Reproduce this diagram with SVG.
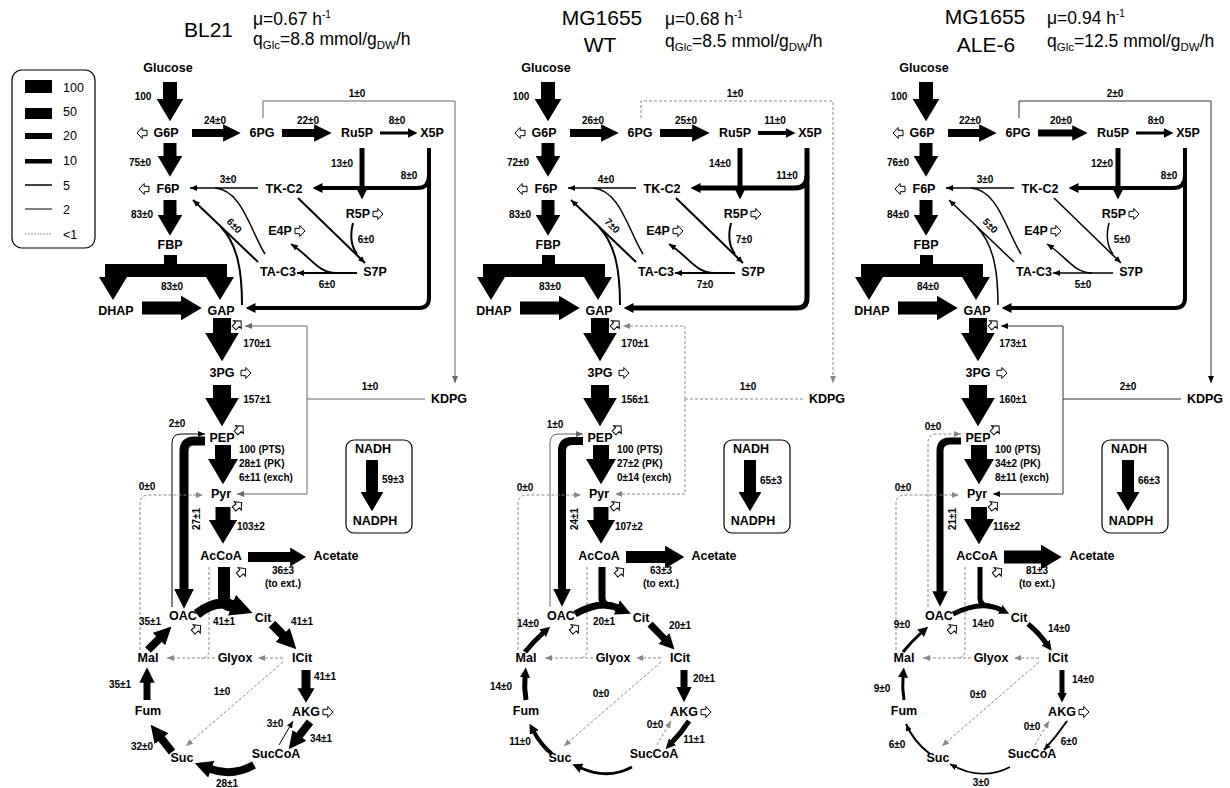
<svg xmlns="http://www.w3.org/2000/svg" xmlns:xlink="http://www.w3.org/1999/xlink" width="1230" height="788" viewBox="0 0 1230 788">
<style>
text{font-family:"Liberation Sans",Arial,sans-serif;fill:#000}
.n{font-size:12.5px;font-weight:bold;text-anchor:middle}
.l{font-size:10px;font-weight:bold;text-anchor:middle}
.ls{text-anchor:start}
.t1{font-size:21px}
.t2{font-size:17.5px}
.lg{font-size:12.5px}
.k{fill:none;stroke:#000;stroke-linejoin:round}
.g1{fill:none;stroke:#666;stroke-width:1}
.dk{fill:none;stroke:#333;stroke-width:1}
.d{fill:none;stroke:#888;stroke-width:1;stroke-dasharray:3 2}
.box{fill:none;stroke:#000;stroke-width:1.2}
.ico{fill:#fff;stroke:#000;stroke-width:1}
</style>
<defs>
<marker id="hL" viewBox="0 0 10 10" refX="0.5" refY="5" markerWidth="1.6" markerHeight="1.9" orient="auto" preserveAspectRatio="none"><path d="M0,0L10,5L0,10z"/></marker>
<marker id="hM" viewBox="0 0 10 10" refX="0.5" refY="5" markerWidth="2.2" markerHeight="2.2" orient="auto" preserveAspectRatio="none"><path d="M0,0L10,5L0,10z"/></marker>
<marker id="hS" viewBox="0 0 10 10" refX="0.5" refY="5" markerUnits="userSpaceOnUse" markerWidth="10" markerHeight="10" orient="auto"><path d="M0,0L10,5L0,10z"/></marker>
<marker id="hT" viewBox="0 0 10 10" refX="10" refY="5" markerUnits="userSpaceOnUse" markerWidth="7" markerHeight="6" orient="auto" preserveAspectRatio="none"><path d="M0,0L10,5L0,10z"/></marker>
<marker id="hD" viewBox="0 0 10 10" refX="10" refY="5" markerUnits="userSpaceOnUse" markerWidth="7" markerHeight="6" orient="auto" preserveAspectRatio="none"><path d="M0,0L10,5L0,10z" fill="#666"/></marker>
<marker id="hG" viewBox="0 0 10 10" refX="10" refY="5" markerUnits="userSpaceOnUse" markerWidth="7" markerHeight="6" orient="auto" preserveAspectRatio="none"><path d="M0,0L10,5L0,10z" fill="#888"/></marker>
<path id="ico" class="ico" d="M0,-2.7H4.8V-5.5L10,0L4.8,5.5V2.7H0Z"/>
<polygon id="fbp" points="164,255 177,255 177,264 227,264 227,277 234,277 220,300 206,277 127,277 113,300 99,277 105,277 105,264 164,264"/>
</defs>
<rect width="1230" height="788" fill="#fff"/>

<g id="legend">
<rect class="box" x="12" y="70" width="83" height="178" rx="10"/>
<rect x="25" y="80" width="27" height="13"/>
<rect x="25" y="108" width="27" height="11"/>
<rect x="25" y="133" width="27" height="6"/>
<rect x="25" y="159" width="27" height="4.5"/>
<line x1="25" y1="185" x2="52" y2="185" stroke="#000" stroke-width="1.5"/>
<line x1="25" y1="209" x2="52" y2="209" stroke="#000" stroke-width="1"/>
<line x1="25" y1="234" x2="52" y2="234" stroke="#999" stroke-width="1" stroke-dasharray="2 1"/>
<text class="lg" x="63" y="92">100</text>
<text class="lg" x="63" y="116">50</text>
<text class="lg" x="63" y="140">20</text>
<text class="lg" x="63" y="165">10</text>
<text class="lg" x="63" y="190">5</text>
<text class="lg" x="63" y="214">2</text>
<text class="lg" x="63" y="239">&lt;1</text>
</g>

<g id="titles">
<text class="t1" x="184" y="37">BL21</text>
<text class="t2" x="253" y="25">μ=0.67 h<tspan font-size="10" dy="-7">-1</tspan></text>
<text class="t2" x="253" y="45">q<tspan font-size="11.5" dy="4">Glc</tspan><tspan dy="-4">=8.8 mmol/g</tspan><tspan font-size="11.5" dy="4">DW</tspan><tspan dy="-4">/h</tspan></text>
<text class="t1" x="602" y="25" text-anchor="middle">MG1655</text>
<text class="t1" x="600" y="52" text-anchor="middle">WT</text>
<text class="t2" x="665" y="25">μ=0.68 h<tspan font-size="10" dy="-7">-1</tspan></text>
<text class="t2" x="665" y="47">q<tspan font-size="11.5" dy="4">Glc</tspan><tspan dy="-4">=8.5 mmol/g</tspan><tspan font-size="11.5" dy="4">DW</tspan><tspan dy="-4">/h</tspan></text>
<text class="t1" x="985" y="24" text-anchor="middle">MG1655</text>
<text class="t1" x="986" y="52" text-anchor="middle">ALE-6</text>
<text class="t2" x="1047" y="24">μ=0.94 h<tspan font-size="10" dy="-7">-1</tspan></text>
<text class="t2" x="1047" y="47">q<tspan font-size="11.5" dy="4">Glc</tspan><tspan dy="-4">=12.5 mmol/g</tspan><tspan font-size="11.5" dy="4">DW</tspan><tspan dy="-4">/h</tspan></text>
</g>

<!-- ================= PANEL 1 ================= -->
<g id="p1">
<g id="p1-connectors">
<path class="k" stroke-width="14" marker-end="url(#hL)" d="M170,82V100"/>
<path class="k" stroke-width="13" marker-end="url(#hL)" d="M170,143V157"/>
<path class="k" stroke-width="13" marker-end="url(#hL)" d="M170,200V216"/>
<use href="#fbp"/>
<path class="k" stroke-width="13" marker-end="url(#hL)" d="M142,308H182"/>
<path class="k" stroke-width="8" marker-end="url(#hM)" d="M192,133H224"/>
<path class="k" stroke-width="8" marker-end="url(#hM)" d="M282,133H315"/>
<path class="k" stroke-width="3" marker-end="url(#hS)" d="M380,133H408"/>
<path class="g1" marker-end="url(#hD)" d="M263,118V101H455V383"/>
<path class="k" stroke-width="5" marker-end="url(#hS)" d="M362,148V190"/>
<path class="k" stroke-width="4" marker-end="url(#hS)" d="M429,148V298Q429,308 419,308H255"/>
<path class="k" stroke-width="4" marker-end="url(#hS)" d="M429,176Q429,188 417,188H322"/>
<path class="k" stroke-width="1.5" marker-end="url(#hT)" d="M258,188H190"/>
<path class="k" stroke-width="1.5" d="M265,254C250,230 242,190 215,188"/>
<path class="k" stroke-width="2" marker-end="url(#hT)" d="M258,262L193,200"/>
<path class="k" stroke-width="2" d="M242,305C242,272 238,245 221,227"/>
<path class="k" stroke-width="2" marker-end="url(#hT)" d="M298,198L365,263"/>
<path class="k" stroke-width="2" d="M353,223C350,235 351,246 357,254"/>
<path class="k" stroke-width="2" marker-end="url(#hT)" d="M357,273H297"/>
<path class="k" stroke-width="2" marker-end="url(#hT)" d="M336,273C318,273 312,258 291,244"/>
<path class="k" stroke-width="18" marker-end="url(#hL)" d="M222,318V334"/>
<path class="k" stroke-width="18" marker-end="url(#hL)" d="M222,385V399"/>
<path class="k" stroke-width="16" marker-end="url(#hL)" d="M223,445V460"/>
<path class="k" stroke-width="15" marker-end="url(#hL)" d="M223,507V521"/>
<path class="k" stroke-width="10" marker-end="url(#hL)" d="M248,557H291"/>
<path class="g1" d="M425,399H307"/>
<path class="g1" marker-end="url(#hD)" d="M307,399V326H245"/>
<path class="g1" marker-end="url(#hD)" d="M307,399V494H237"/>
<path class="k" stroke-width="9" marker-end="url(#hM)" d="M205,441H194Q184,441 184,451V590"/>
<path class="k" stroke-width="1" marker-end="url(#hT)" d="M172,607V443Q172,434 181,434H205"/>
<path class="d" marker-end="url(#hG)" d="M140,650V504Q140,495 149,495H203"/>
<path class="d" d="M209,567V650Q209,658 201,658"/>
<path class="d" marker-end="url(#hG)" d="M283,658H258"/>
<path class="d" marker-end="url(#hG)" d="M215,658H167"/>
<path class="d" marker-end="url(#hG)" d="M283,662L186,746"/>
<path class="k" stroke-width="12" d="M224,567V597Q224,606 234,606"/>
<path class="k" stroke-width="10" marker-end="url(#hM)" d="M197,614Q216,599 233,605.5"/>
<path class="k" stroke-width="9" marker-end="url(#hM)" d="M272,624L283.3,635.7"/>
<path class="k" stroke-width="9" marker-end="url(#hL)" d="M306,670V689"/>
<path class="k" stroke-width="8" marker-end="url(#hM)" d="M310,722L299,736"/>
<path class="k" stroke-width="1" marker-end="url(#hT)" d="M279,745L293,721"/>
<path class="k" stroke-width="8" marker-end="url(#hM)" d="M254,765Q232,777 210.4,769"/>
<path class="k" stroke-width="8" marker-end="url(#hM)" d="M172,752L161,738"/>
<path class="k" stroke-width="7" marker-end="url(#hM)" d="M147,700V682"/>
<path class="k" stroke-width="8" marker-end="url(#hM)" d="M148,650L159.6,638.4"/>
<path class="k" stroke-width="12" marker-end="url(#hL)" d="M372,460V493"/>
<text class="l" x="143" y="100">100</text>
<text class="l" x="215" y="124">24±0</text>
<text class="l" x="308" y="124">22±0</text>
<text class="l" x="397" y="124">8±0</text>
<text class="l" x="357" y="97">1±0</text>
<text class="l" x="140" y="166">75±0</text>
<text class="l" x="342" y="167">13±0</text>
<text class="l" x="409" y="179">8±0</text>
<text class="l" x="228" y="183">3±0</text>
<text class="l" x="142" y="218">83±0</text>
<text class="l" x="234" y="229" transform="rotate(45 234 226)">6±0</text>
<text class="l" x="366" y="243">6±0</text>
<text class="l" x="327" y="288">6±0</text>
<text class="l" x="172" y="290">83±0</text>
<text class="l" x="257" y="347">170±1</text>
<text class="l" x="257" y="403">157±1</text>
<text class="l" x="370" y="390">1±0</text>
<text class="l" x="177" y="427">2±0</text>
<text class="l ls" x="239" y="453">100 (PTS)</text>
<text class="l ls" x="239" y="467">28±1 (PK)</text>
<text class="l ls" x="239" y="481">6±11 (exch)</text>
<text class="l" x="147" y="490">0±0</text>
<text class="l" x="200" y="519" transform="rotate(-90 200 519)">27±1</text>
<text class="l ls" x="237" y="530">103±2</text>
<text class="l" x="283" y="574">36±3</text>
<text class="l" x="283" y="587">(to ext.)</text>
<text class="l" x="224" y="625">41±1</text>
<text class="l" x="302" y="625">41±1</text>
<text class="l" x="150" y="625">35±1</text>
<text class="l" x="325" y="680">41±1</text>
<text class="l" x="222" y="695">1±0</text>
<text class="l" x="120" y="688">35±1</text>
<text class="l" x="275" y="727">3±0</text>
<text class="l" x="321" y="742">34±1</text>
<text class="l" x="142" y="750">32±0</text>
<text class="l" x="227" y="787">28±1</text>
<text class="l ls" x="382" y="483">59±3</text>
</g>
<g id="p1-Glucose"><text class="n" x="168" y="72">Glucose</text></g>
<g id="p1-G6P"><text class="n" x="166" y="137">G6P</text><use href="#ico" transform="translate(147,133) rotate(180)"/></g>
<g id="p1-6PG"><text class="n" x="262" y="137">6PG</text></g>
<g id="p1-Ru5P"><text class="n" x="357" y="137">Ru5P</text></g>
<g id="p1-X5P"><text class="n" x="432" y="137">X5P</text></g>
<g id="p1-F6P"><text class="n" x="168" y="193">F6P</text><use href="#ico" transform="translate(149,189) rotate(180)"/></g>
<g id="p1-TKC2"><text class="n" x="284" y="193">TK-C2</text></g>
<g id="p1-R5P"><text class="n" x="358" y="218">R5P</text><use href="#ico" transform="translate(373,214)"/></g>
<g id="p1-E4P"><text class="n" x="280" y="235">E4P</text><use href="#ico" transform="translate(295,231)"/></g>
<g id="p1-FBP"><text class="n" x="170" y="249">FBP</text></g>
<g id="p1-TAC3"><text class="n" x="278" y="276">TA-C3</text></g>
<g id="p1-S7P"><text class="n" x="375" y="276">S7P</text></g>
<g id="p1-DHAP"><text class="n" x="116" y="315">DHAP</text></g>
<g id="p1-GAP"><text class="n" x="221" y="315">GAP</text><use href="#ico" transform="translate(234,328) rotate(-45)"/></g>
<g id="p1-3PG"><text class="n" x="222" y="377">3PG</text><use href="#ico" transform="translate(241,373)"/></g>
<g id="p1-KDPG"><text class="n" x="449" y="403">KDPG</text></g>
<g id="p1-PEP"><text class="n" x="222" y="442">PEP</text><use href="#ico" transform="translate(236,433) rotate(-45)"/></g>
<g id="p1-Pyr"><text class="n" x="221" y="498">Pyr</text><use href="#ico" transform="translate(234,509) rotate(-40)"/></g>
<g id="p1-AcCoA"><text class="n" x="221" y="560">AcCoA</text><use href="#ico" transform="translate(238,575) rotate(-40)"/></g>
<g id="p1-Acetate"><text class="n" x="336" y="560">Acetate</text></g>
<g id="p1-OAC"><text class="n" x="183" y="620">OAC</text><use href="#ico" transform="translate(193,632) rotate(-40)"/></g>
<g id="p1-Cit"><text class="n" x="263" y="622">Cit</text></g>
<g id="p1-Mal"><text class="n" x="148" y="662">Mal</text></g>
<g id="p1-Glyox"><text class="n" x="235" y="662">Glyox</text></g>
<g id="p1-ICit"><text class="n" x="302" y="662">ICit</text></g>
<g id="p1-Fum"><text class="n" x="148" y="715">Fum</text></g>
<g id="p1-AKG"><text class="n" x="306" y="716">AKG</text><use href="#ico" transform="translate(323,712)"/></g>
<g id="p1-Suc"><text class="n" x="182" y="762">Suc</text></g>
<g id="p1-SucCoA"><text class="n" x="276" y="758">SucCoA</text></g>
<g id="p1-NADH"><rect class="box" x="346" y="440" width="66" height="93" rx="8"/><text class="n" x="373" y="453">NADH</text><text class="n" x="375" y="525">NADPH</text></g>
</g>

<!-- ================= PANEL 2 ================= -->
<g id="p2" transform="translate(378,0)">
<g id="p2-connectors">
<path class="k" stroke-width="14" marker-end="url(#hL)" d="M170,82V100"/>
<path class="k" stroke-width="13" marker-end="url(#hL)" d="M170,143V157"/>
<path class="k" stroke-width="13" marker-end="url(#hL)" d="M170,200V216"/>
<use href="#fbp"/>
<path class="k" stroke-width="13" marker-end="url(#hL)" d="M142,308H182"/>
<path class="k" stroke-width="8" marker-end="url(#hM)" d="M192,133H224"/>
<path class="k" stroke-width="8" marker-end="url(#hM)" d="M282,133H315"/>
<path class="k" stroke-width="4" marker-end="url(#hS)" d="M380,133H408"/>
<path class="d" marker-end="url(#hG)" d="M263,118V101H455V383"/>
<path class="k" stroke-width="5" marker-end="url(#hS)" d="M362,148V190"/>
<path class="k" stroke-width="5" marker-end="url(#hS)" d="M429,148V298Q429,308 419,308H255"/>
<path class="k" stroke-width="5" marker-end="url(#hS)" d="M429,176Q429,188 417,188H322"/>
<path class="k" stroke-width="1.5" marker-end="url(#hT)" d="M258,188H190"/>
<path class="k" stroke-width="1.5" d="M265,254C250,230 242,190 215,188"/>
<path class="k" stroke-width="2" marker-end="url(#hT)" d="M258,262L193,200"/>
<path class="k" stroke-width="2" d="M242,305C242,272 238,245 221,227"/>
<path class="k" stroke-width="2" marker-end="url(#hT)" d="M298,198L365,263"/>
<path class="k" stroke-width="2" d="M353,223C350,235 351,246 357,254"/>
<path class="k" stroke-width="2" marker-end="url(#hT)" d="M357,273H297"/>
<path class="k" stroke-width="2" marker-end="url(#hT)" d="M336,273C318,273 312,258 291,244"/>
<path class="k" stroke-width="18" marker-end="url(#hL)" d="M222,318V334"/>
<path class="k" stroke-width="18" marker-end="url(#hL)" d="M222,385V399"/>
<path class="k" stroke-width="16" marker-end="url(#hL)" d="M223,445V460"/>
<path class="k" stroke-width="15" marker-end="url(#hL)" d="M223,507V521"/>
<path class="k" stroke-width="12" marker-end="url(#hL)" d="M248,557H288"/>
<path class="d" d="M425,399H307"/>
<path class="d" marker-end="url(#hG)" d="M307,399V326H245"/>
<path class="d" marker-end="url(#hG)" d="M307,399V494H237"/>
<path class="k" stroke-width="8" marker-end="url(#hM)" d="M205,441H194Q184,441 184,451V590"/>
<path class="g1" marker-end="url(#hD)" d="M172,607V443Q172,434 181,434H205"/>
<path class="d" marker-end="url(#hG)" d="M140,650V504Q140,495 149,495H203"/>
<path class="d" d="M209,567V650Q209,658 201,658"/>
<path class="d" marker-end="url(#hG)" d="M283,658H258"/>
<path class="d" marker-end="url(#hG)" d="M215,658H167"/>
<path class="d" marker-end="url(#hG)" d="M283,662L186,746"/>
<path class="k" stroke-width="7" d="M224,567V598Q224,606 234,606"/>
<path class="k" stroke-width="7" marker-end="url(#hM)" d="M197,614Q222,600 239.5,607.8"/>
<path class="k" stroke-width="7" marker-end="url(#hM)" d="M272,624L286.4,638.9"/>
<path class="k" stroke-width="7" marker-end="url(#hM)" d="M306,670V687.6"/>
<path class="k" stroke-width="5" marker-end="url(#hS)" d="M311,721Q303,733 294.2,742.1"/>
<path class="d" marker-end="url(#hG)" d="M279,745L293,721"/>
<path class="k" stroke-width="3" marker-end="url(#hS)" d="M254,767Q230,780 203,768"/>
<path class="k" stroke-width="4" marker-end="url(#hS)" d="M174,754Q163,745 156,732"/>
<path class="k" stroke-width="5" marker-end="url(#hS)" d="M148,700Q146,688 147,677"/>
<path class="k" stroke-width="5" marker-end="url(#hS)" d="M147,652Q156,641 165,633"/>
<path class="k" stroke-width="12" marker-end="url(#hL)" d="M372,460V493"/>
<text class="l" x="143" y="100">100</text>
<text class="l" x="215" y="124">26±0</text>
<text class="l" x="308" y="124">25±0</text>
<text class="l" x="397" y="124">11±0</text>
<text class="l" x="357" y="97">1±0</text>
<text class="l" x="140" y="166">72±0</text>
<text class="l" x="342" y="167">14±0</text>
<text class="l" x="409" y="179">11±0</text>
<text class="l" x="228" y="183">4±0</text>
<text class="l" x="142" y="218">83±0</text>
<text class="l" x="234" y="229" transform="rotate(45 234 226)">7±0</text>
<text class="l" x="366" y="243">7±0</text>
<text class="l" x="327" y="288">7±0</text>
<text class="l" x="172" y="290">83±0</text>
<text class="l" x="257" y="347">170±1</text>
<text class="l" x="257" y="403">156±1</text>
<text class="l" x="370" y="390">1±0</text>
<text class="l" x="177" y="428">1±0</text>
<text class="l ls" x="239" y="453">100 (PTS)</text>
<text class="l ls" x="239" y="467">27±2 (PK)</text>
<text class="l ls" x="239" y="481">0±14 (exch)</text>
<text class="l" x="147" y="491">0±0</text>
<text class="l" x="200" y="519" transform="rotate(-90 200 519)">24±1</text>
<text class="l ls" x="237" y="530">107±2</text>
<text class="l" x="283" y="574">63±3</text>
<text class="l" x="283" y="587">(to ext.)</text>
<text class="l" x="226" y="625">20±1</text>
<text class="l" x="302" y="629">20±1</text>
<text class="l" x="150" y="627">14±0</text>
<text class="l" x="326" y="682">20±1</text>
<text class="l" x="223" y="697">0±0</text>
<text class="l" x="123" y="690">14±0</text>
<text class="l" x="277" y="728">0±0</text>
<text class="l" x="316" y="743">11±1</text>
<text class="l" x="142" y="745">11±0</text>
<text class="l ls" x="382" y="484">65±3</text>
</g>
<g id="p2-Glucose"><text class="n" x="168" y="72">Glucose</text></g>
<g id="p2-G6P"><text class="n" x="166" y="137">G6P</text><use href="#ico" transform="translate(147,133) rotate(180)"/></g>
<g id="p2-6PG"><text class="n" x="262" y="137">6PG</text></g>
<g id="p2-Ru5P"><text class="n" x="357" y="137">Ru5P</text></g>
<g id="p2-X5P"><text class="n" x="432" y="137">X5P</text></g>
<g id="p2-F6P"><text class="n" x="168" y="193">F6P</text><use href="#ico" transform="translate(149,189) rotate(180)"/></g>
<g id="p2-TKC2"><text class="n" x="284" y="193">TK-C2</text></g>
<g id="p2-R5P"><text class="n" x="358" y="218">R5P</text><use href="#ico" transform="translate(373,214)"/></g>
<g id="p2-E4P"><text class="n" x="280" y="235">E4P</text><use href="#ico" transform="translate(295,231)"/></g>
<g id="p2-FBP"><text class="n" x="170" y="249">FBP</text></g>
<g id="p2-TAC3"><text class="n" x="278" y="276">TA-C3</text></g>
<g id="p2-S7P"><text class="n" x="375" y="276">S7P</text></g>
<g id="p2-DHAP"><text class="n" x="116" y="315">DHAP</text></g>
<g id="p2-GAP"><text class="n" x="221" y="315">GAP</text><use href="#ico" transform="translate(234,328) rotate(-45)"/></g>
<g id="p2-3PG"><text class="n" x="222" y="377">3PG</text><use href="#ico" transform="translate(241,373)"/></g>
<g id="p2-KDPG"><text class="n" x="449" y="403">KDPG</text></g>
<g id="p2-PEP"><text class="n" x="222" y="442">PEP</text><use href="#ico" transform="translate(236,433) rotate(-45)"/></g>
<g id="p2-Pyr"><text class="n" x="221" y="498">Pyr</text><use href="#ico" transform="translate(234,509) rotate(-40)"/></g>
<g id="p2-AcCoA"><text class="n" x="221" y="560">AcCoA</text><use href="#ico" transform="translate(238,575) rotate(-40)"/></g>
<g id="p2-Acetate"><text class="n" x="336" y="560">Acetate</text></g>
<g id="p2-OAC"><text class="n" x="183" y="620">OAC</text><use href="#ico" transform="translate(193,632) rotate(-40)"/></g>
<g id="p2-Cit"><text class="n" x="263" y="622">Cit</text></g>
<g id="p2-Mal"><text class="n" x="148" y="662">Mal</text></g>
<g id="p2-Glyox"><text class="n" x="235" y="662">Glyox</text></g>
<g id="p2-ICit"><text class="n" x="302" y="662">ICit</text></g>
<g id="p2-Fum"><text class="n" x="148" y="715">Fum</text></g>
<g id="p2-AKG"><text class="n" x="306" y="716">AKG</text><use href="#ico" transform="translate(323,712)"/></g>
<g id="p2-Suc"><text class="n" x="182" y="762">Suc</text></g>
<g id="p2-SucCoA"><text class="n" x="276" y="758">SucCoA</text></g>
<g id="p2-NADH"><rect class="box" x="346" y="440" width="66" height="93" rx="8"/><text class="n" x="373" y="453">NADH</text><text class="n" x="375" y="525">NADPH</text></g>
</g>

<!-- ================= PANEL 3 ================= -->
<g id="p3" transform="translate(756,0)">
<g id="p3-connectors">
<path class="k" stroke-width="14" marker-end="url(#hL)" d="M170,82V100"/>
<path class="k" stroke-width="13" marker-end="url(#hL)" d="M170,143V157"/>
<path class="k" stroke-width="13" marker-end="url(#hL)" d="M170,200V216"/>
<use href="#fbp"/>
<path class="k" stroke-width="13" marker-end="url(#hL)" d="M142,308H182"/>
<path class="k" stroke-width="8" marker-end="url(#hM)" d="M192,133H224"/>
<path class="k" stroke-width="7" marker-end="url(#hM)" d="M282,133H317"/>
<path class="k" stroke-width="3" marker-end="url(#hS)" d="M380,133H408"/>
<path class="dk" marker-end="url(#hT)" d="M263,118V101H455V383"/>
<path class="k" stroke-width="5" marker-end="url(#hS)" d="M362,148V190"/>
<path class="k" stroke-width="4" marker-end="url(#hS)" d="M429,148V298Q429,308 419,308H255"/>
<path class="k" stroke-width="4" marker-end="url(#hS)" d="M429,176Q429,188 417,188H322"/>
<path class="k" stroke-width="1.5" marker-end="url(#hT)" d="M258,188H190"/>
<path class="k" stroke-width="1.5" d="M265,254C250,230 242,190 215,188"/>
<path class="k" stroke-width="1.5" marker-end="url(#hT)" d="M258,262L193,200"/>
<path class="k" stroke-width="1.5" d="M242,305C242,272 238,245 221,227"/>
<path class="k" stroke-width="1.5" marker-end="url(#hT)" d="M298,198L365,263"/>
<path class="k" stroke-width="1.5" d="M353,223C350,235 351,246 357,254"/>
<path class="k" stroke-width="1.5" marker-end="url(#hT)" d="M357,273H297"/>
<path class="k" stroke-width="1.5" marker-end="url(#hT)" d="M336,273C318,273 312,258 291,244"/>
<path class="k" stroke-width="18" marker-end="url(#hL)" d="M222,318V334"/>
<path class="k" stroke-width="18" marker-end="url(#hL)" d="M222,385V399"/>
<path class="k" stroke-width="16" marker-end="url(#hL)" d="M223,445V460"/>
<path class="k" stroke-width="16" marker-end="url(#hL)" d="M223,507V520"/>
<path class="k" stroke-width="13" marker-end="url(#hL)" d="M248,557H286"/>
<path class="dk" d="M425,399H307"/>
<path class="dk" marker-end="url(#hT)" d="M307,399V326H245"/>
<path class="dk" marker-end="url(#hT)" d="M307,399V494H237"/>
<path class="k" stroke-width="7" marker-end="url(#hM)" d="M205,441H194Q184,441 184,451V592"/>
<path class="d" marker-end="url(#hG)" d="M172,607V443Q172,434 181,434H205"/>
<path class="d" marker-end="url(#hG)" d="M140,650V504Q140,495 149,495H203"/>
<path class="d" d="M209,567V650Q209,658 201,658"/>
<path class="d" marker-end="url(#hG)" d="M283,658H258"/>
<path class="d" marker-end="url(#hG)" d="M215,658H167"/>
<path class="d" marker-end="url(#hG)" d="M283,662L186,746"/>
<path class="k" stroke-width="5" d="M224,567V598Q224,606 234,606"/>
<path class="k" stroke-width="5" marker-end="url(#hS)" d="M197,614Q225,600 244.6,609.6"/>
<path class="k" stroke-width="5" marker-end="url(#hS)" d="M272,624Q282,632 290,643"/>
<path class="k" stroke-width="5" marker-end="url(#hS)" d="M306,670V693"/>
<path class="k" stroke-width="2" marker-end="url(#hT)" d="M311,721Q300,737 288,750"/>
<path class="d" marker-end="url(#hG)" d="M279,745L293,721"/>
<path class="k" stroke-width="1.5" marker-end="url(#hT)" d="M254,767Q225,782 194,764"/>
<path class="k" stroke-width="2" marker-end="url(#hT)" d="M174,754Q158,742 150,724"/>
<path class="k" stroke-width="3" marker-end="url(#hS)" d="M148,700Q146,688 147,677"/>
<path class="k" stroke-width="3" marker-end="url(#hS)" d="M147,652Q156,641 165,633"/>
<path class="k" stroke-width="12" marker-end="url(#hL)" d="M372,460V493"/>
<text class="l" x="143" y="100">100</text>
<text class="l" x="214" y="124">22±0</text>
<text class="l" x="305" y="124">20±0</text>
<text class="l" x="400" y="124">8±0</text>
<text class="l" x="359" y="97">2±0</text>
<text class="l" x="142" y="166">76±0</text>
<text class="l" x="346" y="167">12±0</text>
<text class="l" x="413" y="179">8±0</text>
<text class="l" x="229" y="183">3±0</text>
<text class="l" x="142" y="218">84±0</text>
<text class="l" x="234" y="229" transform="rotate(45 234 226)">5±0</text>
<text class="l" x="366" y="243">5±0</text>
<text class="l" x="327" y="288">5±0</text>
<text class="l" x="172" y="290">84±0</text>
<text class="l" x="257" y="347">173±1</text>
<text class="l" x="257" y="403">160±1</text>
<text class="l" x="372" y="390">2±0</text>
<text class="l" x="177" y="430">0±0</text>
<text class="l ls" x="239" y="453">100 (PTS)</text>
<text class="l ls" x="239" y="467">34±2 (PK)</text>
<text class="l ls" x="239" y="481">8±11 (exch)</text>
<text class="l" x="147" y="491">0±0</text>
<text class="l" x="200" y="519" transform="rotate(-90 200 519)">21±1</text>
<text class="l ls" x="237" y="530">116±2</text>
<text class="l" x="281" y="574">81±3</text>
<text class="l" x="281" y="587">(to ext.)</text>
<text class="l" x="227" y="627">14±0</text>
<text class="l" x="303" y="632">14±0</text>
<text class="l" x="146" y="628">9±0</text>
<text class="l" x="327" y="683">14±0</text>
<text class="l" x="222" y="698">0±0</text>
<text class="l" x="126" y="692">9±0</text>
<text class="l" x="276" y="730">0±0</text>
<text class="l" x="313" y="745">6±0</text>
<text class="l" x="141" y="748">6±0</text>
<text class="l" x="225" y="786">3±0</text>
<text class="l ls" x="382" y="484">66±3</text>
</g>
<g id="p3-Glucose"><text class="n" x="168" y="72">Glucose</text></g>
<g id="p3-G6P"><text class="n" x="166" y="137">G6P</text><use href="#ico" transform="translate(147,133) rotate(180)"/></g>
<g id="p3-6PG"><text class="n" x="262" y="137">6PG</text></g>
<g id="p3-Ru5P"><text class="n" x="357" y="137">Ru5P</text></g>
<g id="p3-X5P"><text class="n" x="432" y="137">X5P</text></g>
<g id="p3-F6P"><text class="n" x="168" y="193">F6P</text><use href="#ico" transform="translate(149,189) rotate(180)"/></g>
<g id="p3-TKC2"><text class="n" x="284" y="193">TK-C2</text></g>
<g id="p3-R5P"><text class="n" x="358" y="218">R5P</text><use href="#ico" transform="translate(373,214)"/></g>
<g id="p3-E4P"><text class="n" x="280" y="235">E4P</text><use href="#ico" transform="translate(295,231)"/></g>
<g id="p3-FBP"><text class="n" x="170" y="249">FBP</text></g>
<g id="p3-TAC3"><text class="n" x="278" y="276">TA-C3</text></g>
<g id="p3-S7P"><text class="n" x="375" y="276">S7P</text></g>
<g id="p3-DHAP"><text class="n" x="116" y="315">DHAP</text></g>
<g id="p3-GAP"><text class="n" x="221" y="315">GAP</text><use href="#ico" transform="translate(234,328) rotate(-45)"/></g>
<g id="p3-3PG"><text class="n" x="222" y="377">3PG</text><use href="#ico" transform="translate(241,373)"/></g>
<g id="p3-KDPG"><text class="n" x="449" y="403">KDPG</text></g>
<g id="p3-PEP"><text class="n" x="222" y="442">PEP</text><use href="#ico" transform="translate(236,433) rotate(-45)"/></g>
<g id="p3-Pyr"><text class="n" x="221" y="498">Pyr</text><use href="#ico" transform="translate(234,509) rotate(-40)"/></g>
<g id="p3-AcCoA"><text class="n" x="221" y="560">AcCoA</text><use href="#ico" transform="translate(238,575) rotate(-40)"/></g>
<g id="p3-Acetate"><text class="n" x="336" y="560">Acetate</text></g>
<g id="p3-OAC"><text class="n" x="183" y="620">OAC</text><use href="#ico" transform="translate(193,632) rotate(-40)"/></g>
<g id="p3-Cit"><text class="n" x="263" y="622">Cit</text></g>
<g id="p3-Mal"><text class="n" x="148" y="662">Mal</text></g>
<g id="p3-Glyox"><text class="n" x="235" y="662">Glyox</text></g>
<g id="p3-ICit"><text class="n" x="302" y="662">ICit</text></g>
<g id="p3-Fum"><text class="n" x="148" y="715">Fum</text></g>
<g id="p3-AKG"><text class="n" x="306" y="716">AKG</text><use href="#ico" transform="translate(323,712)"/></g>
<g id="p3-Suc"><text class="n" x="182" y="762">Suc</text></g>
<g id="p3-SucCoA"><text class="n" x="276" y="758">SucCoA</text></g>
<g id="p3-NADH"><rect class="box" x="346" y="440" width="66" height="93" rx="8"/><text class="n" x="373" y="453">NADH</text><text class="n" x="375" y="525">NADPH</text></g>
</g>
</svg>
